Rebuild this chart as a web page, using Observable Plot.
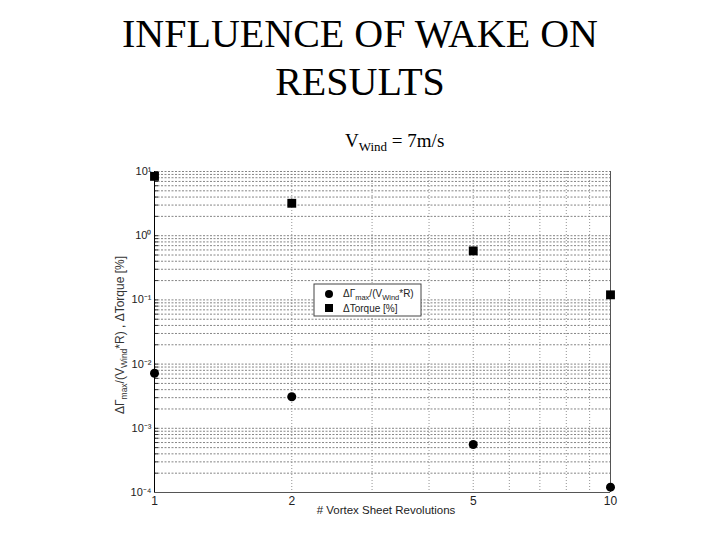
<!DOCTYPE html>
<html>
<head>
<meta charset="utf-8">
<script src="https://cdn.jsdelivr.net/npm/d3@7"></script>
<script src="https://cdn.jsdelivr.net/npm/@observablehq/plot@0.6"></script>
<style>
  body { margin: 0; background: white; }
  #page { position: relative; width: 720px; height: 540px; overflow: hidden; }
  #hdr { position: relative; width: 720px; height: 160px; }
  .t { position: absolute; left: 0; width: 720px; text-align: center;
       font-family: "Liberation Serif", "Times New Roman", serif; font-size: 40px; line-height: 1;
       color: #000; white-space: nowrap; }
  .sub { position: absolute; left: 345px; top: 131px; font-family: "Liberation Serif", serif;
         font-size: 19px; line-height: 1; color: #000; white-space: nowrap; }
  .sub sub { font-size: 13px; vertical-align: -4px; line-height: 0; }
</style>
</head>
<body>
<div id="page">
  <div id="hdr">
    <div class="t" style="top:14px">INFLUENCE OF WAKE ON</div>
    <div class="t" style="top:62px">RESULTS</div>
    <div class="sub">V<sub>Wind</sub> = 7m/s</div>
  </div>
  <div id="chart"></div>
</div>
<script>
// ---- data ----
const revolutions = [1, 2, 5, 10];
const torquePct = [8.4, 3.2, 0.58, 0.12];
const gammaNorm = [0.0072, 0.0031, 0.00056, 0.000121];
const xTicks = [1, 2, 5, 10];
const yTicks = [1e-4, 1e-3, 1e-2, 1e-1, 1, 10];
const yTickLabels = ["10⁻⁴", "10⁻³", "10⁻²", "10⁻¹", "10⁰", "10¹"];

const rows = revolutions.map((x, i) => ({x, torque: torquePct[i], gamma: gammaNorm[i]}));
const yLabelMap = new Map(yTicks.map((v, i) => [v, yTickLabels[i]]));

// grid positions (log decades with minor lines)
const yGrid = [];
for (let k = -4; k <= 0; k++) for (let m = 1; m <= 9; m++) yGrid.push(+(m * Math.pow(10, k)).toPrecision(3));
yGrid.push(10);
const xGrid = [2, 3, 4, 5, 6, 7, 8, 9];

const chart = Plot.plot({
  width: 720,
  height: 380,
  marginTop: 11,
  marginBottom: 48,
  marginLeft: 154,
  marginRight: 110,
  style: {fontFamily: "'Liberation Sans', Arial, sans-serif", fontSize: "11px", color: "#222", background: "white"},
  x: {type: "log", domain: [1, 10]},
  y: {type: "log", domain: [1e-4, 10]},
  marks: [
    Plot.ruleY(yGrid, {stroke: "#333", strokeDasharray: "2,1.5", strokeWidth: 0.8, strokeOpacity: 0.75}),
    Plot.ruleX(xGrid, {stroke: "#777", strokeDasharray: "1,2", strokeWidth: 0.8}),
    Plot.axisX({ticks: xTicks, tickFormat: d => String(d), tickSize: 0, tickPadding: 4, fontSize: 12, label: null}),
    Plot.axisY({ticks: yTicks, tickFormat: d => yLabelMap.get(d), tickSize: 0, tickPadding: 3, fontSize: 11, label: null}),
    Plot.axisY({ticks: yGrid, tickFormat: () => "", tickSize: -4, stroke: "#333", label: null}),
    Plot.ruleX([1], {stroke: "#000", strokeWidth: 1}),
    Plot.ruleX([10], {stroke: "#555", strokeWidth: 1}),
    Plot.ruleY([1e-4], {stroke: "#555", strokeWidth: 1}),
    Plot.dot(rows, {x: "x", y: "gamma", symbol: "circle", r: 4.5, fill: "#000", stroke: null}),
    Plot.dot(rows, {x: "x", y: "torque", symbol: "square", r: 5, fill: "#000", stroke: null})
  ]
});
document.getElementById("chart").appendChild(chart);

const svg = d3.select(chart);
const font = "'Liberation Sans', Arial, sans-serif";

// x axis label
svg.append("text")
  .attr("x", 386).attr("y", 354)
  .attr("text-anchor", "middle")
  .attr("font-family", font).attr("font-size", 11.5).attr("fill", "#222")
  .text("# Vortex Sheet Revolutions");

// y axis label (rotated, with subscripts)
const yl = svg.append("text")
  .attr("transform", "translate(124,175) rotate(-90)")
  .attr("text-anchor", "middle")
  .attr("font-family", font).attr("font-size", 12).attr("fill", "#333");
yl.append("tspan").text("ΔΓ");
yl.append("tspan").attr("dy", 3).attr("font-size", 8.5).text("max");
yl.append("tspan").attr("dy", -3).text("/(V");
yl.append("tspan").attr("dy", 3).attr("font-size", 8.5).text("Wind");
yl.append("tspan").attr("dy", -3).text("*R) , ΔTorque [%]");

// legend
const lg = svg.append("g");
lg.append("rect").attr("x", 314).attr("y", 124).attr("width", 107).attr("height", 32)
  .attr("fill", "white").attr("stroke", "#444").attr("stroke-width", 1);
lg.append("circle").attr("cx", 329).attr("cy", 134).attr("r", 4).attr("fill", "#000");
lg.append("rect").attr("x", 325).attr("y", 144).attr("width", 8).attr("height", 8).attr("fill", "#000");
const l1 = lg.append("text").attr("x", 343).attr("y", 137).attr("text-anchor", "start")
  .attr("font-family", font).attr("font-size", 10).attr("fill", "#222");
l1.append("tspan").text("ΔΓ");
l1.append("tspan").attr("dy", 3).attr("font-size", 7.5).text("max");
l1.append("tspan").attr("dy", -3).text("/(V");
l1.append("tspan").attr("dy", 3).attr("font-size", 7.5).text("Wind");
l1.append("tspan").attr("dy", -3).text("*R)");
lg.append("text").attr("x", 343).attr("y", 152).attr("text-anchor", "start")
  .attr("font-family", font).attr("font-size", 10).attr("fill", "#222")
  .text("ΔTorque [%]");
</script>
</body>
</html>
